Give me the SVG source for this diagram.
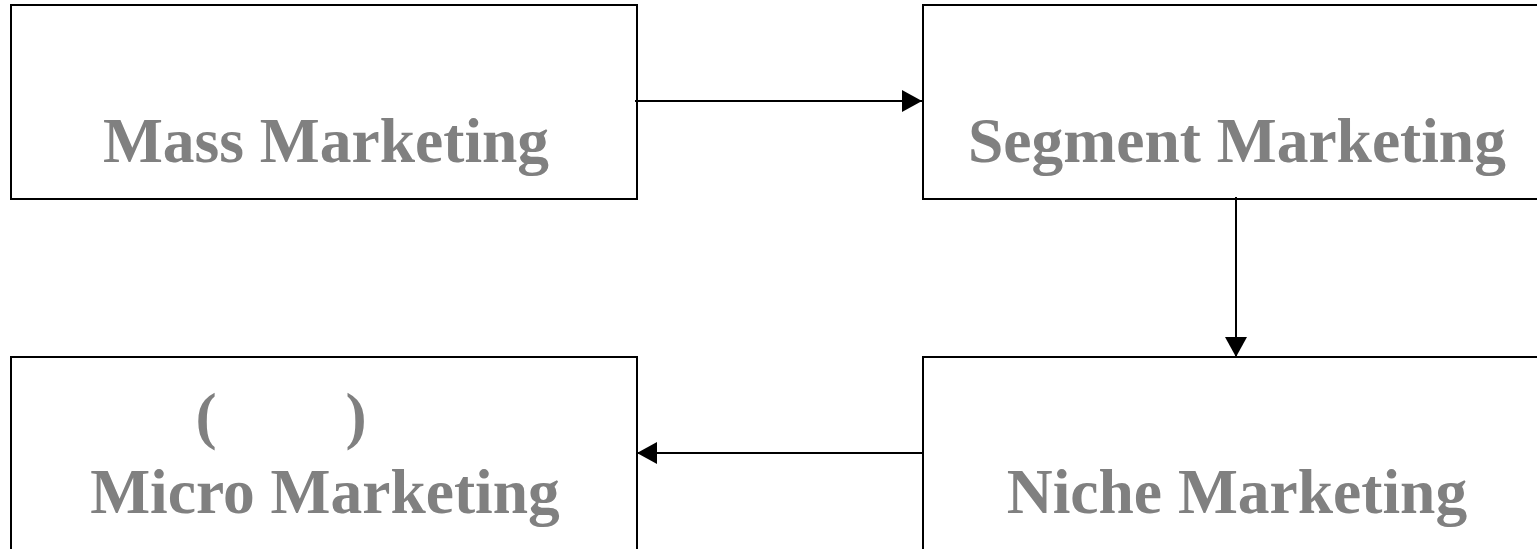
<svg xmlns="http://www.w3.org/2000/svg" width="1537" height="549" viewBox="0 0 1537 549">
<style>
.box{fill:#fff;stroke:#000;stroke-width:2}
.lbl{font-family:"Liberation Serif","Times New Roman",serif;font-weight:bold;font-size:63.5px;fill:#808080;text-anchor:middle}
.con{stroke:#000;stroke-width:2;fill:none}
</style>
<defs>
<marker id="ah" viewBox="0 0 20 22" refX="20" refY="11" markerWidth="20" markerHeight="22" markerUnits="userSpaceOnUse" orient="auto">
<path d="M0,0 L20,11 L0,22 Z" fill="#000"/>
</marker>
</defs>
<rect width="1537" height="549" fill="#fff"/>
<g id="mass">
<rect class="box" x="11" y="5" width="626" height="194"/>
<text class="lbl" x="326" y="162">Mass Marketing</text>
</g>
<g id="segment">
<rect class="box" x="923" y="5" width="626" height="194"/>
<text class="lbl" x="1237" y="162">Segment Marketing</text>
</g>
<g id="micro">
<rect class="box" x="11" y="357" width="626" height="200"/>
<text class="lbl" x="206" y="437">(</text>
<text class="lbl" x="356" y="437">)</text>
<text class="lbl" x="325" y="513">Micro Marketing</text>
</g>
<g id="niche">
<rect class="box" x="923" y="357" width="626" height="200"/>
<text class="lbl" x="1237" y="513">Niche Marketing</text>
</g>
<g id="connectors">
<line class="con" x1="635" y1="101" x2="922" y2="101" marker-end="url(#ah)"/>
<line class="con" x1="1236" y1="197" x2="1236" y2="357" marker-end="url(#ah)"/>
<line class="con" x1="923" y1="453" x2="637" y2="453" marker-end="url(#ah)"/>
</g>
</svg>
